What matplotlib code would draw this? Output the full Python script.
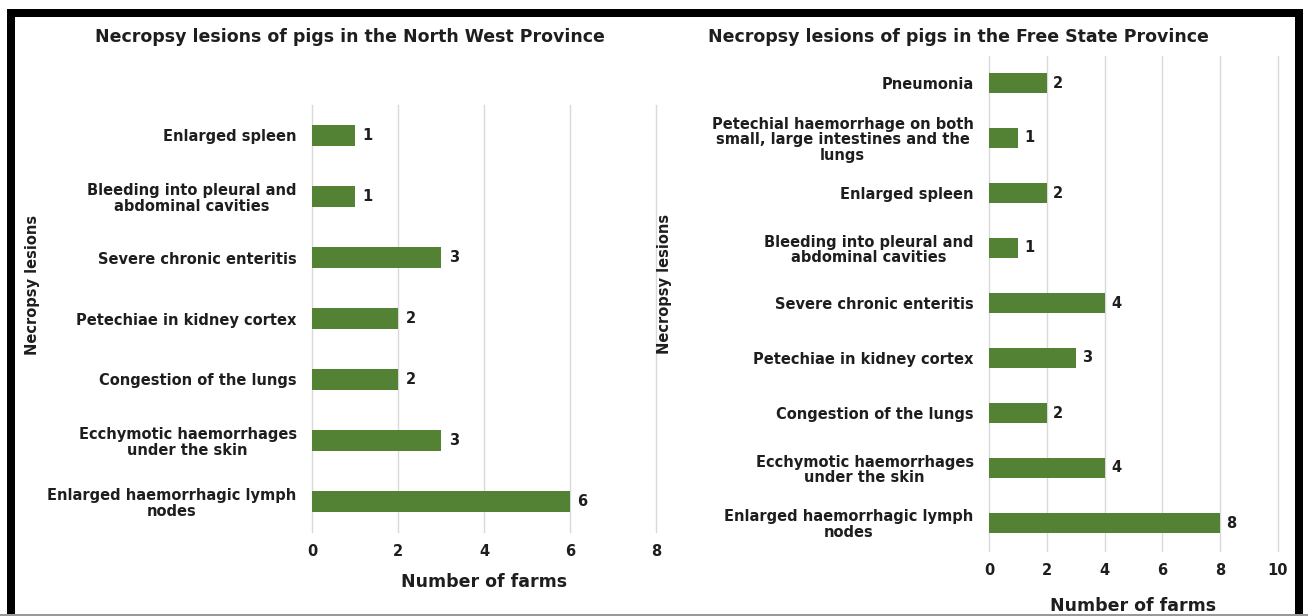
import matplotlib.pyplot as plt
from matplotlib.patches import Rectangle

plt.rcParams['font.family'] = ['DejaVu Sans']
plt.rcParams['font.weight'] = 'bold'

# North West Province (bottom to top)
nw_lesions = [
    "Enlarged haemorrhagic lymph\nnodes",
    "Ecchymotic haemorrhages\nunder the skin",
    "Congestion of the lungs",
    "Petechiae in kidney cortex",
    "Severe chronic enteritis",
    "Bleeding into pleural and\nabdominal cavities",
    "Enlarged spleen",
]
nw_farms = [6, 3, 2, 2, 3, 1, 1]

# Free State Province (bottom to top)
fs_lesions = [
    "Enlarged haemorrhagic lymph\nnodes",
    "Ecchymotic haemorrhages\nunder the skin",
    "Congestion of the lungs",
    "Petechiae in kidney cortex",
    "Severe chronic enteritis",
    "Bleeding into pleural and\nabdominal cavities",
    "Enlarged spleen",
    "Petechial haemorrhage on both\nsmall, large intestines and the\nlungs",
    "Pneumonia",
]
fs_farms = [8, 4, 2, 3, 4, 1, 2, 1, 2]

W, H = 1308, 616
bar_color = '#548235'
grid_color = '#d9d9d9'
text_color = '#1e1e1e'

fig = plt.figure(figsize=(W / 100, H / 100), dpi=100)
fig.patch.set_facecolor('white')


def px_box(x0, y0, x1, y1):
    # pixel box (top-left origin) -> figure fraction rect
    return [x0 / W, 1 - y1 / H, (x1 - x0) / W, (y1 - y0) / H]


def draw_panel(ax, labels, values, xmax):
    y = range(len(labels))
    ax.barh(y, values, height=0.36, color=bar_color, zorder=3)
    for yi, v in zip(y, values):
        ax.text(v + xmax * 0.022, yi, str(v), va='center', ha='left',
                fontsize=10.5, fontweight='bold', color=text_color)
    ax.set_yticks(list(y))
    ax.set_yticklabels(labels, fontsize=10.5, fontweight='bold', color=text_color,
                       multialignment='center', linespacing=1.05)
    ax.set_ylim(-0.5, len(labels) - 0.5)
    ax.set_xlim(0, xmax)
    ax.set_xticks(range(0, xmax + 1, 2))
    ax.tick_params(axis='both', length=0, labelsize=10.5, labelcolor=text_color)
    ax.tick_params(axis='x', pad=9)
    ax.tick_params(axis='y', pad=11)
    ax.xaxis.grid(True, color=grid_color, linewidth=1, zorder=0)
    for gl in ax.get_xgridlines():
        gl.set_clip_on(False)
    ax.set_axisbelow(True)
    for s in ax.spines.values():
        s.set_visible(False)


ax1 = fig.add_axes(px_box(312, 105, 656, 532))
draw_panel(ax1, nw_lesions, nw_farms, 8)
ax1.set_xlabel('Number of farms', fontsize=12.5, fontweight='bold', labelpad=10,
               color=text_color)

ax2 = fig.add_axes(px_box(989, 55.5, 1278, 550.5))
draw_panel(ax2, fs_lesions, fs_farms, 10)
ax2.set_xlabel('Number of farms', fontsize=12.5, fontweight='bold', labelpad=14,
               color=text_color)

fig.text(350 / W, 1 - 37 / H, 'Necropsy lesions of pigs in the North West Province',
         ha='center', va='center', fontsize=12.5, fontweight='bold', color=text_color)
fig.text(958 / W, 1 - 37 / H, 'Necropsy lesions of pigs in the Free State Province',
         ha='center', va='center', fontsize=12.5, fontweight='bold', color=text_color)
fig.text(33 / W, 1 - 285 / H, 'Necropsy lesions', rotation=90, ha='center',
         va='center', fontsize=10.5, fontweight='bold', color=text_color)
fig.text(665 / W, 1 - 284 / H, 'Necropsy lesions', rotation=90, ha='center',
         va='center', fontsize=10.5, fontweight='bold', color=text_color)

# black frame around the figure
for x0, y0, x1, y1 in [(7, 9, 1303, 17), (7, 9, 15, 616), (1295, 9, 1303, 616)]:
    fig.add_artist(Rectangle((x0 / W, 1 - y1 / H), (x1 - x0) / W, (y1 - y0) / H,
                             transform=fig.transFigure, color='black', lw=0))
fig.add_artist(Rectangle((0, 0), 1, 2 / H, transform=fig.transFigure,
                         color='#999999', lw=0))

fig.savefig('out.png', dpi=100)
